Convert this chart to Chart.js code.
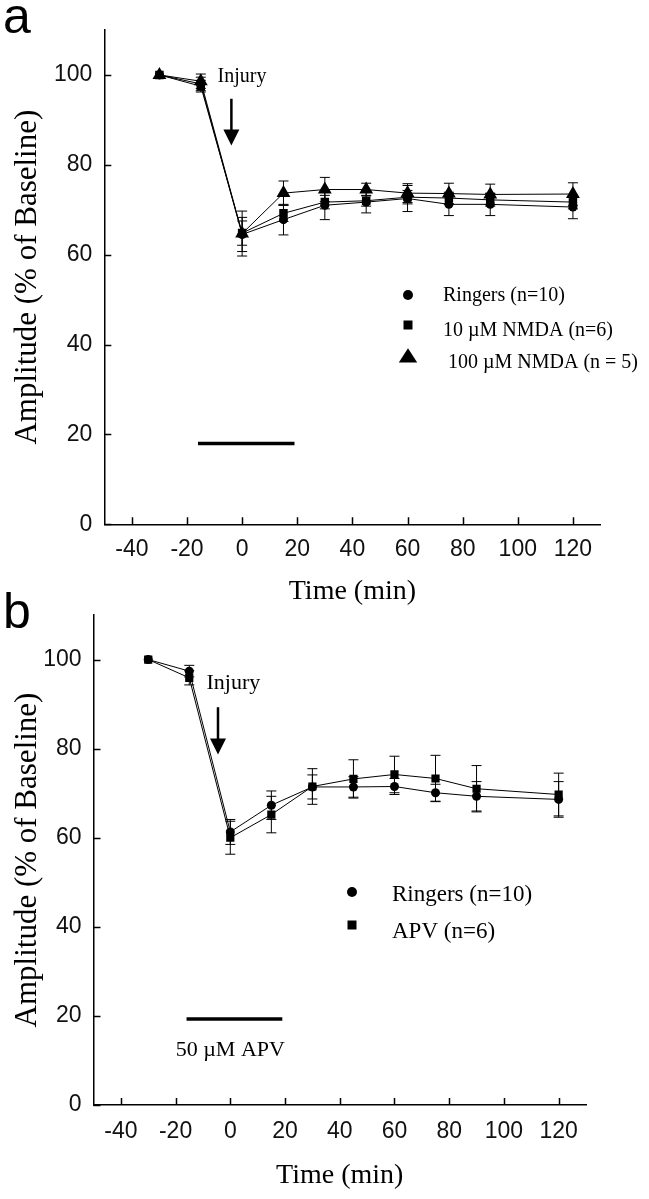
<!DOCTYPE html>
<html>
<head>
<meta charset="utf-8">
<script src="https://cdn.jsdelivr.net/npm/chart.js@4.4.1/dist/chart.umd.min.js"></script>
<style>
  html, body { margin: 0; padding: 0; background: #fff; }
  body { width: 649px; height: 1199px; position: relative; overflow: hidden; }
  .panel { position: absolute; left: 0; width: 649px; }
  #panelA { top: 0; height: 620px; }
  #panelB { top: 580px; height: 619px; }
</style>
</head>
<body>
<div class="panel" id="panelA"><canvas id="chartA" width="649" height="620"></canvas></div>
<div class="panel" id="panelB"><canvas id="chartB" width="649" height="619"></canvas></div>
<script>
// time points (min)
let timeA = [-30, -15, 0, 15, 30, 45, 60, 75, 90, 120];
let ringersA = [100, 98.0, 64.5, 67.8, 71.0, 71.7, 72.5, 71.2, 71.2, 70.6];
let ringersAErr = [0, 1.5, 3.8, 3.4, 3.2, 2.4, 2.9, 2.5, 2.5, 2.6];
let nmda10A = [100, 97.5, 64.8, 69.2, 71.7, 72.0, 72.8, 72.6, 72.2, 71.7];
let nmda10AErr = [0, 1.3, 2.7, 1.8, 1.5, 1.2, 1.5, 1.3, 1.4, 1.5];
let nmda100A = [100, 98.6, 64.7, 73.7, 74.5, 74.5, 73.7, 73.6, 73.4, 73.5];
let nmda100AErr = [0, 1.6, 5.0, 2.7, 2.7, 1.4, 2.1, 2.3, 2.3, 2.5];

let timeB = [-30, -15, 0, 15, 30, 45, 60, 75, 90, 120];
let ringersB = [100, 97.4, 61.3, 67.3, 71.4, 71.4, 71.5, 70.1, 69.3, 68.6];
let ringersBErr = [0, 1.3, 2.8, 3.2, 2.7, 2.3, 1.8, 1.9, 3.3, 4.0];
let apvB = [100, 95.9, 60.0, 65.2, 71.5, 73.2, 74.2, 73.3, 71.0, 69.7];
let apvBErr = [0, 1.6, 3.7, 4.1, 4.0, 4.3, 4.1, 5.2, 5.2, 4.8];

let xTicks = [-40, -20, 0, 20, 40, 60, 80, 100, 120];
let yTicks = [0, 20, 40, 60, 80, 100];

// drug application bars: [start, end, level]
let drugA = [-16, 19, 18];
let drugB = [-16, 19, 19.3];

const SERIF = "'Liberation Serif', 'Times New Roman', serif";
const SANS = "'Liberation Sans', Arial, sans-serif";

function points(times, values) {
    return times.map((t, i) => ({x: t, y: values[i]}));
}

function drawMarker(ctx, style, x, y, r) {
    ctx.beginPath();
    if (style === 'circle') {
        ctx.arc(x, y, r, 0, Math.PI * 2);
    } else if (style === 'rect') {
        ctx.rect(x - r, y - r, r * 2, r * 2);
    } else {
        ctx.moveTo(x, y - r * 1.1);
        ctx.lineTo(x + r * 1.15, y + r * 0.7);
        ctx.lineTo(x - r * 1.15, y + r * 0.7);
        ctx.closePath();
    }
    ctx.fill();
}

const extras = {
    id: 'extras',
    beforeDatasetsDraw(chart) {
        const {ctx, scales: {x, y}} = chart;
        ctx.save();
        ctx.strokeStyle = '#000';
        ctx.lineWidth = 1;
        chart.data.datasets.forEach(ds => {
            ds.errors.forEach((e, i) => {
                if (!e) return;
                const p = ds.data[i];
                const px = x.getPixelForValue(p.x);
                const top = y.getPixelForValue(p.y + e);
                const bot = y.getPixelForValue(p.y - e);
                ctx.beginPath();
                ctx.moveTo(px, top); ctx.lineTo(px, bot);
                ctx.moveTo(px - 5, top); ctx.lineTo(px + 5, top);
                ctx.moveTo(px - 5, bot); ctx.lineTo(px + 5, bot);
                ctx.stroke();
            });
        });
        ctx.restore();
    },
    afterDraw(chart, args, opts) {
        const {ctx, scales: {x, y}} = chart;
        ctx.save();
        ctx.strokeStyle = '#000';
        ctx.fillStyle = '#000';

        // inward tick marks
        ctx.lineWidth = 1.5;
        ctx.beginPath();
        xTicks.forEach(v => {
            const px = Math.round(x.getPixelForValue(v)) + 0.5;
            ctx.moveTo(px, y.bottom); ctx.lineTo(px, y.bottom - 7);
        });
        yTicks.forEach(v => {
            const py = Math.round(y.getPixelForValue(v)) + 0.5;
            ctx.moveTo(x.left, py); ctx.lineTo(x.left + 7, py);
        });
        ctx.stroke();

        // drug bar
        const [d0, d1, dl] = opts.drug;
        ctx.lineWidth = 3.5;
        ctx.beginPath();
        ctx.moveTo(x.getPixelForValue(d0), y.getPixelForValue(dl));
        ctx.lineTo(x.getPixelForValue(d1), y.getPixelForValue(dl));
        ctx.stroke();
        if (opts.drugLabel) {
            ctx.font = opts.drugLabel.size + 'px ' + SERIF;
            ctx.textAlign = 'center';
            ctx.textBaseline = 'middle';
            ctx.fillText(opts.drugLabel.text, x.getPixelForValue(opts.drugLabel.x), y.getPixelForValue(opts.drugLabel.y));
        }

        // injury label + arrow
        const inj = opts.injury;
        ctx.font = inj.size + 'px ' + SERIF;
        ctx.textAlign = 'left';
        ctx.textBaseline = 'middle';
        ctx.fillText('Injury', x.getPixelForValue(inj.textX), y.getPixelForValue(inj.textY));
        const ax = x.getPixelForValue(inj.arrowX);
        const ay0 = y.getPixelForValue(inj.arrowTop);
        const ay1 = y.getPixelForValue(inj.arrowTip);
        ctx.lineWidth = 2.5;
        ctx.beginPath();
        ctx.moveTo(ax, ay0); ctx.lineTo(ax, ay1 - 10);
        ctx.stroke();
        ctx.beginPath();
        ctx.moveTo(ax - 8, ay1 - 16);
        ctx.lineTo(ax + 8, ay1 - 16);
        ctx.lineTo(ax, ay1);
        ctx.closePath();
        ctx.fill();

        // legend
        const lg = opts.legend;
        ctx.font = lg.size + 'px ' + SERIF;
        ctx.textAlign = 'left';
        ctx.textBaseline = 'middle';
        lg.items.forEach((it, i) => {
            drawMarker(ctx, it.style, lg.markerX, lg.markerY[i], it.r);
            ctx.fillText(it.label, lg.textX, lg.textY[i]);
        });

        // panel letter
        ctx.font = '50px ' + SANS;
        ctx.textBaseline = 'alphabetic';
        ctx.fillText(opts.letter, 3, opts.letterY);
        ctx.restore();
    }
};

function makeChart(id, cfg) {
    const el = document.getElementById(id).getContext('2d');
    return new Chart(el, {
        type: 'line',
        data: {datasets: cfg.datasets},
        plugins: [extras],
        options: {
            responsive: false,
            animation: false,
            events: [],
            layout: {padding: {top: cfg.top, right: cfg.right, left: 0, bottom: 0}},
            plugins: {
                legend: {display: false},
                tooltip: {enabled: false},
                extras: cfg.extras
            },
            scales: {
                x: {
                    type: 'linear',
                    min: -50,
                    max: 130,
                    afterBuildTicks: s => { s.ticks = xTicks.map(v => ({value: v})); },
                    afterFit: s => { s.height = cfg.xHeight; },
                    grid: {display: true, drawOnChartArea: false, drawTicks: false},
                    border: {display: true, color: '#000', width: 1.5},
                    ticks: {color: '#111', padding: cfg.xPad, font: {family: SANS, size: 23}, maxRotation: 0},
                    title: {display: true, text: 'Time (min)', color: '#000',
                        font: {family: SERIF, size: 28}, padding: {top: 0, bottom: cfg.xTitlePad}}
                },
                y: {
                    min: 0,
                    max: 110,
                    afterBuildTicks: s => { s.ticks = yTicks.map(v => ({value: v})); },
                    afterFit: s => { s.width = cfg.yWidth; },
                    grid: {display: true, drawOnChartArea: false, drawTicks: false},
                    border: {display: true, color: '#000', width: 1.5},
                    ticks: {color: '#111', padding: 12, font: {family: SANS, size: 23}},
                    title: {display: true, text: 'Amplitude (% of Baseline)', color: '#000',
                        font: {family: SERIF, size: 31}, padding: {top: 9, bottom: 0}}
                }
            }
        }
    });
}

function series(label, times, values, errors, style, r, order) {
    return {
        label: label,
        data: points(times, values),
        errors: errors,
        order: order,
        borderColor: '#000',
        borderWidth: 1,
        backgroundColor: '#000',
        pointStyle: style,
        pointRadius: r,
        pointBorderWidth: 0,
        pointBackgroundColor: '#000',
        tension: 0
    };
}

makeChart('chartA', {
    top: 30, right: 48.5, yWidth: 104.3, xHeight: 95.7, xPad: 12, xTitlePad: 12,
    datasets: [
        series('Ringers (n=10)', timeA, ringersA, ringersAErr, 'circle', 4.5, 3),
        series('10 µM NMDA (n=6)', timeA, nmda10A, nmda10AErr, 'rect', 6, 2),
        series('100 µM NMDA (n = 5)', timeA, nmda100A, nmda100AErr, 'triangle', 8, 1)
    ],
    extras: {
        letter: 'a', letterY: 33,
        drug: drugA,
        injury: {size: 20, textX: -8.9, textY: 99.6, arrowX: -3.9, arrowTop: 94.7, arrowTip: 84.3},
        legend: {
            size: 20, markerX: 408, textX: 443,
            markerY: [295, 325, 357], textY: [296, 331, 363],
            items: [
                {style: 'circle', r: 5, label: 'Ringers (n=10)'},
                {style: 'rect', r: 4.5, label: '10 µM NMDA (n=6)'},
                {style: 'triangle', r: 8, label: ' 100 µM NMDA (n = 5)'}
            ]
        }
    }
});

makeChart('chartB', {
    top: 35, right: 63, yWidth: 93.5, xHeight: 94, xPad: 13, xTitlePad: 7,
    datasets: [
        series('Ringers (n=10)', timeB, ringersB, ringersBErr, 'circle', 4.5, 2),
        series('APV (n=6)', timeB, apvB, apvBErr, 'rect', 5.8, 1)
    ],
    extras: {
        letter: 'b', letterY: 48,
        drug: drugB,
        drugLabel: {text: '50 µM APV', size: 22, x: 0, y: 12.3},
        injury: {size: 22, textX: -8.7, textY: 94.6, arrowX: -4.5, arrowTop: 89.3, arrowTip: 78.7},
        legend: {
            size: 23, markerX: 352, textX: 392,
            markerY: [312, 345], textY: [315, 352],
            items: [
                {style: 'circle', r: 5, label: 'Ringers (n=10)'},
                {style: 'rect', r: 4.5, label: 'APV (n=6)'}
            ]
        }
    }
});
</script>
</body>
</html>
